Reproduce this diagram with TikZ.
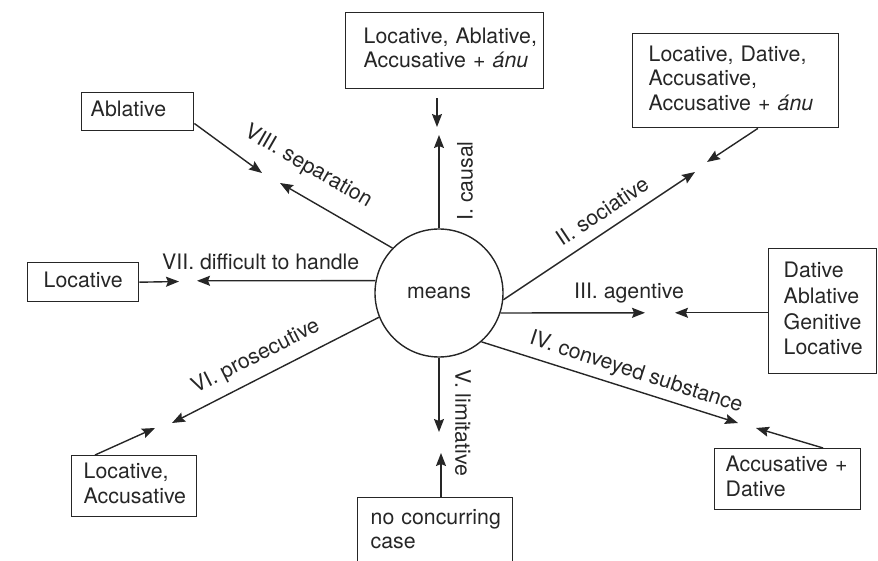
\documentclass[tikz,border=0pt]{standalone}
\usepackage{fontspec}
\setmainfont{TeX Gyre Heros}
\usetikzlibrary{arrows.meta,calc}
\definecolor{ink}{HTML}{262626}
\begin{document}
\begin{tikzpicture}[x=1pt,y=-1pt,
  every node/.style={font=\fontsize{21.3}{24.5}\selectfont, text=ink},
  conn/.style={draw=ink, line width=1.4pt, -{Stealth[length=13pt,width=10pt,inset=2pt]}},
  casebox/.style={draw=ink, line width=1.4pt, anchor=north west, align=left,
    inner ysep=0pt, execute at begin node=\strut, execute at end node=\strut},
  lbl/.style={inner sep=0pt}]
\useasboundingbox (0,0) rectangle (878,561);
\clip (0,0) rectangle (878,561);

% central concept
\node[circle, draw=ink, line width=1.4pt, minimum size=128pt, inner sep=0pt] (m) at (439,293) {means};

% case boxes (each line kept whole)
\node[casebox, text width=162pt, inner xsep=18pt, minimum height=76pt] (b1) at (345,12)
  {\mbox{Locative, Ablative,}\\\mbox{Accusative + \textit{ánu}}};
\node[casebox, text width=174pt, inner xsep=16pt, minimum height=94pt] (b2) at (632,33)
  {\mbox{Locative, Dative,}\\Accusative,\\\mbox{Accusative + \textit{ánu}}};
\node[casebox, text width=94pt, inner xsep=9pt, minimum height=38pt] (b3) at (81,92)
  {Ablative};
\node[casebox, text width=79pt, inner xsep=16pt, minimum height=39pt] (b4) at (27,262)
  {Locative};
\node[casebox, text width=78pt, inner xsep=15pt, minimum height=125pt,
  font=\fontsize{21.3}{25.7}\selectfont] (b5) at (768,248)
  {Dative\\Ablative\\Genitive\\Locative};
\node[casebox, text width=124pt, inner xsep=11pt, minimum height=61pt] (b6) at (714,448)
  {\mbox{Accusative +}\\Dative};
\node[casebox, text width=129pt, inner xsep=13pt, minimum height=68pt] (b7) at (357,497)
  {\mbox{no concurring}\\case};
\node[casebox, text width=101pt, inner xsep=12pt, minimum height=61pt,
  font=\fontsize{21.3}{25}\selectfont] (b8) at (71,455)
  {Locative,\\\mbox{Accusative}};

% arrow tips
\coordinate (tI) at (439,135);
\coordinate (tIb) at (437,127);
\coordinate (tII) at (695,172);
\coordinate (tIIb) at (707,162);
\coordinate (tIII) at (645,312.8);
\coordinate (tIIIb) at (675,312.8);
\coordinate (tIV) at (738,423);
\coordinate (tIVb) at (756,428);
\coordinate (tV) at (439,432);
\coordinate (tVb) at (441,453);
\coordinate (tVI) at (172,423);
\coordinate (tVIb) at (155,428);
\coordinate (tVII) at (197,280.8);
\coordinate (tVIIb) at (179,281.5);
\coordinate (tVIII) at (280,183);
\coordinate (tVIIIb) at (262,173);

% relations leaving the centre
\draw[conn] (m.north) -- (tI);
\draw[conn] (m.-6) -- (tII);
\draw[conn] (m.-18) -- (tIII);
\draw[conn] (m.-49) -- (tIV);
\draw[conn] (m.south) -- (tV);
\draw[conn] (m.202) -- (tVI);
\draw[conn] (m.169) -- (tVII);
\draw[conn] (m.136) -- (tVIII);

% concurring cases
\draw[conn, shorten <=9pt] (b1.south -| tIb) -- (tIb);
\draw[conn] ($(b2.south west)!0.607!(b2.south east)$) -- (tIIb);
\draw[conn] (b5.west |- tIIIb) -- (tIIIb);
\draw[conn] ($(b6.north west)!0.74!(b6.north east)$) -- (tIVb);
\draw[conn] (b7.north -| tVb) -- (tVb);
\draw[conn] ($(b8.north west)!0.19!(b8.north east)$) -- (tVIb);
\draw[conn] (b4.east) -- (tVIIb);
\draw[conn] ($(b3.north east)!0.8!(b3.south east)$) -- (tVIIIb);

% relation labels
\node[lbl, rotate=90] (lI) at (465,181) {I. causal};
\node[lbl, rotate=33.7] (lII) at (602,211) {II. sociative};
\node[lbl, anchor=base] (lIII) at (629,299) {III. agentive};
\node[lbl, rotate=-18] (lIV) at (636,373) {IV. conveyed substance};
\node[lbl, rotate=-90] (lV) at (463,423) {V. limitative};
\node[lbl, rotate=27] (lVI) at (256,357) {VI. prosecutive};
\node[lbl, anchor=base west] (lVII) at (162,270) {VII. difficult to handle};
\node[lbl, rotate=-30] (lVIII) at (308,167) {VIII. separation};
\end{tikzpicture}
\end{document}
